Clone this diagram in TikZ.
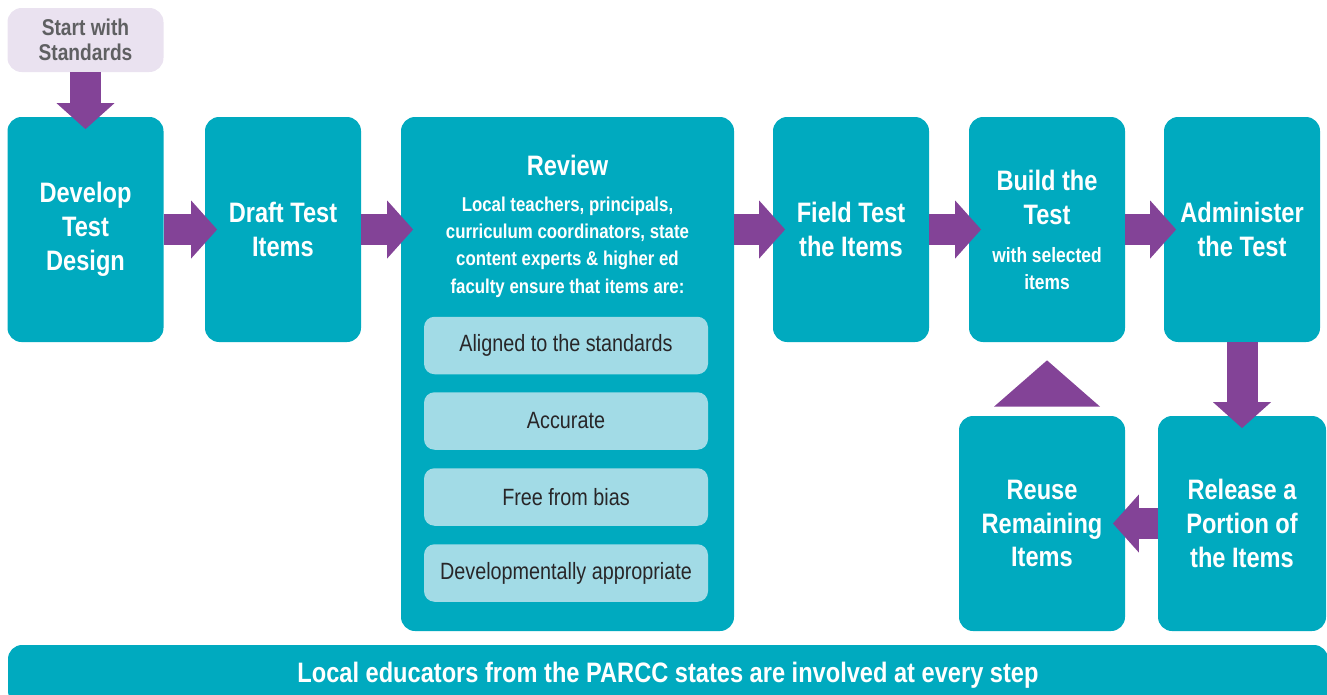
\documentclass[tikz,border=0pt]{standalone}
\usepackage{fontspec}
\setmainfont{Liberation Sans}[FakeStretch=0.84]
\definecolor{parccteal}{RGB}{0,170,191}
\definecolor{parccpurple}{RGB}{131,67,151}
\definecolor{startlilac}{RGB}{234,226,240}
\definecolor{itemblue}{RGB}{162,219,230}
\definecolor{startgray}{RGB}{95,96,98}
\definecolor{itemgray}{RGB}{40,38,40}
\usetikzlibrary{arrows.meta, positioning, calc}

\begin{document}
\begin{tikzpicture}[
  stepbox/.style={rectangle, rounded corners=8pt, fill=parccteal, text=white, minimum width=3.12cm, minimum height=4.5cm, inner sep=0pt, align=center, font=\bfseries\fontsize{16}{19.3}\selectfont},
  note/.style={text=white, align=center, inner sep=0pt, font=\bfseries\fontsize{11.4}{15.6}\selectfont},
  crit/.style={rectangle, rounded corners=6pt, fill=itemblue, text=itemgray, minimum width=5.68cm, minimum height=1.15cm, font=\fontsize{13.4}{15}\selectfont},
  arr/.style={-{Triangle[width=1.13cm,length=0.52cm]}, line width=0.62cm, parccpurple, shorten >=-0.25cm}
]
  \useasboundingbox (0,0) rectangle (26.54,-13.88);
  \node[stepbox, fill=startlilac, text=startgray, minimum height=1.28cm, font=\bfseries\fontsize{13}{14.2}\selectfont] (start) at (1.71,-0.8) {Start with\\Standards};
  \node[stepbox] (devel) at (1.71,-4.59) {Develop\\Test\\Design};
  \node[stepbox] (draft) at (5.66,-4.59) {Draft Test\\Items};
  \node[stepbox, minimum width=6.66cm, minimum height=10.28cm] (review) at (11.35,-7.48) {};
  \node[stepbox] (field) at (17.02,-4.59) {Field Test\\the Items};
  \node[stepbox] (build) at (20.94,-4.59) {};
  \node[stepbox] (admin) at (24.84,-4.59) {Administer\\the Test};
  \node[stepbox, minimum width=3.32cm, minimum height=4.3cm] (reuse) at (20.84,-10.47) {Reuse\\Remaining\\Items};
  \node[stepbox, minimum width=3.36cm, minimum height=4.3cm] (release) at (24.84,-10.47) {Release a\\Portion of\\the Items};
  \node[stepbox, minimum width=26.4cm, minimum height=1.2cm] (banner) at (13.36,-13.5) {Local educators from the PARCC states are involved at every step};

  % review contents
  \node[stepbox, fill=none, minimum width=0pt, minimum height=0pt] (revtitle) at (11.35,-3.3) {Review};
  \node[note] (revnote) at (11.35,-4.94) {Local teachers, principals,\\curriculum coordinators, state\\content experts \& higher ed\\faculty ensure that items are:};
  \node[crit] (aligned) at (11.32,-6.91) {Aligned to the standards};
  \node[crit] (accurate) at (11.32,-8.42) {Accurate};
  \node[crit] (nobias) at (11.32,-9.94) {Free from bias};
  \node[crit] (devapp) at (11.32,-11.46) {Developmentally appropriate};

  % build contents
  \node[stepbox, fill=none, minimum width=0pt, minimum height=0pt] (buildtitle) at (20.94,-3.95) {Build the\\Test};
  \node[note, font=\bfseries\fontsize{11.8}{15.3}\selectfont] (buildnote) at (20.94,-5.37) {with selected\\items};

  \draw[arr] (start) -- (devel);
  \draw[arr] (devel) -- (draft);
  \draw[arr] (draft.east) -- (draft.east -| review.west);
  \draw[arr] (field.west -| review.east) -- (field.west);
  \draw[arr] (field) -- (build);
  \draw[arr] (build) -- (admin);
  \draw[arr] (admin) -- (release);
  \draw[arr] (release) -- (reuse);
  \fill[parccpurple] (reuse.north -| build.south) ++(-1.06,0.18) -- ++(2.12,0) -- ($(build.south)+(0,-0.36)$) -- cycle;
\end{tikzpicture}
\end{document}
